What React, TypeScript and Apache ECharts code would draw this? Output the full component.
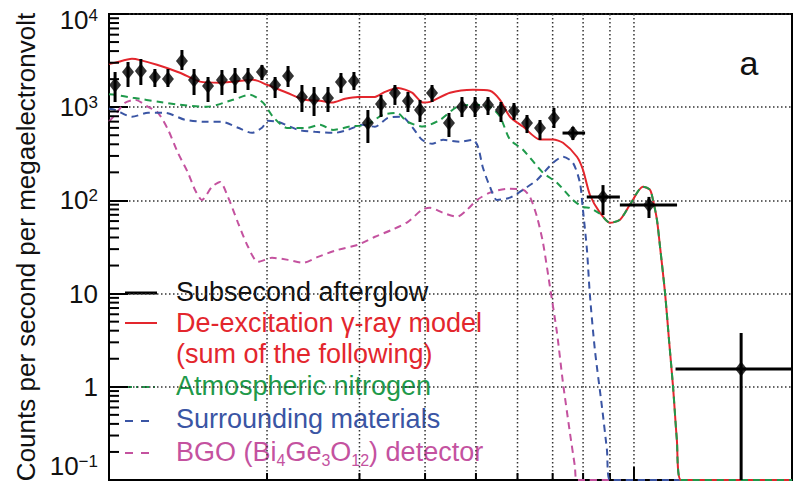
import React, { useEffect, useRef } from "react";
import * as echarts from "echarts";

// ---- Data: subsecond afterglow spectrum (points with error bars) ----
const energyMeV = [1.027, 1.087, 1.15, 1.223, 1.295, 1.377, 1.452, 1.544, 1.641, 1.738, 1.84, 1.956, 2.072, 2.193, 2.331, 2.458, 2.613, 2.766, 2.928, 3.113, 3.297, 3.505, 3.711, 3.912, 4.124, 4.442, 4.703, 4.981, 5.272, 5.58, 5.908, 6.255, 6.622, 7.04, 7.65, 8.73, 10.68, 16.0];
const counts = [1730, 2387, 2446, 2109, 2009, 3131, 1959, 1689, 1959, 2009, 2057, 2387, 1730, 2162, 1286, 1224, 1255, 1864, 1910, 677, 1082, 1421, 1165, 933, 1421, 677, 1005, 1005, 1057, 933, 910, 677, 598, 766, 528, 109, 89, 1.55];
const countsLo = [1137, 1648, 1730, 1648, 1648, 2506, 1352, 1137, 1352, 1421, 1530, 1959, 1255, 1648, 888, 805, 888, 1421, 1530, 413, 785, 1057, 888, 694, 1137, 479, 785, 785, 825, 694, 729, 528, 445, 598, 445, 69.7, 64.7, 0.1];
const countsHi = [2387, 3055, 3289, 2570, 2570, 4109, 2570, 2109, 2506, 2634, 2634, 2837, 2109, 2768, 1730, 1648, 1648, 2328, 2387, 933, 1352, 1730, 1456, 1194, 1730, 866, 1286, 1286, 1286, 1137, 1109, 825, 729, 981, 613, 146, 109, 3.78];
const binLo = [null, null, null, null, null, null, null, null, null, null, null, null, null, null, null, null, null, null, null, null, null, null, null, null, null, null, null, null, null, null, null, null, null, null, 7.31, 8.13, 9.4, 12.0];
const binHi = [null, null, null, null, null, null, null, null, null, null, null, null, null, null, null, null, null, null, null, null, null, null, null, null, null, null, null, null, null, null, null, null, null, null, 8.07, 9.4, 12.08, 20];

// ---- Model: de-excitation gamma-ray model (sum) ----
const modelE = [1.0, 1.027, 1.106, 1.146, 1.234, 1.365, 1.49, 1.627, 1.722, 1.88, 2.0, 2.183, 2.362, 2.523, 2.659, 2.815, 2.98, 3.211, 3.354, 3.552, 3.777, 3.964, 4.088, 4.462, 4.935, 5.317, 5.556, 5.805, 6.146, 6.622, 7.01, 7.325, 7.787, 7.995, 8.242, 8.611, 9.0, 9.404, 9.826, 10.4, 10.73, 10.87, 11.06, 11.21, 11.46, 11.66, 11.87, 12.07, 12.29, 20];
const modelV = [2900, 3000, 3300, 3200, 2850, 2340, 1880, 1830, 1880, 1970, 1740, 1430, 1200, 1170, 1120, 1230, 1290, 1290, 1460, 1610, 1430, 1120, 1140, 1430, 1540, 1500, 1200, 790, 620, 450, 450, 415, 294, 213, 115, 74, 57.5, 62, 90, 140, 130, 101, 62, 32, 10.2, 3.2, 1, 0.27, 0.1, 0.1];

// ---- Atmospheric nitrogen ----
const nitrogenE = [1.0, 1.027, 1.111, 1.251, 1.365, 1.537, 1.722, 1.856, 1.965, 2.053, 2.183, 2.383, 2.523, 2.671, 2.877, 3.1, 3.325, 3.537, 3.695, 3.964, 4.271, 4.602, 4.935, 5.317, 5.556, 5.805, 6.146, 6.71, 7.134, 7.652, 7.995, 8.242, 8.611, 9.0, 9.404, 9.826, 10.4, 10.73, 10.87, 11.06, 11.21, 11.46, 11.66, 11.87, 12.07, 12.29, 20];
const nitrogenV = [1380, 1360, 1260, 1140, 1060, 1010, 1200, 1360, 1120, 790, 600, 600, 650, 570, 620, 650, 830, 870, 700, 620, 730, 1010, 1060, 1010, 790, 450, 350, 198, 155, 101, 85, 83, 72, 57.5, 62, 90, 140, 130, 101, 62, 32, 10.2, 3.2, 1, 0.27, 0.1, 0.1];

// ---- Surrounding materials ----
const surroundE = [1.0, 1.027, 1.106, 1.187, 1.279, 1.395, 1.523, 1.641, 1.761, 1.872, 1.956, 2.009, 2.099, 2.291, 2.468, 2.694, 2.852, 3.033, 3.211, 3.4, 3.615, 3.777, 3.947, 4.124, 4.328, 4.662, 4.935, 5.045, 5.156, 5.317, 5.483, 5.805, 6.146, 6.535, 7.01, 7.325, 7.652, 7.889, 7.995, 8.136, 8.242, 8.424, 8.69, 8.882, 9.0, 20];
const surroundV = [960, 937, 789, 871, 871, 733, 697, 697, 601, 531, 601, 714, 697, 572, 545, 531, 572, 647, 617, 769, 789, 617, 447, 405, 447, 425, 447, 376, 224, 140, 101, 107, 130, 166, 253, 294, 253, 155, 79, 29.5, 9.7, 2.5, 0.61, 0.21, 0.1, 0.1];

// ---- BGO (Bi4Ge3O12) detector ----
const bgoE = [1.0, 1.027, 1.073, 1.121, 1.187, 1.24, 1.296, 1.353, 1.414, 1.458, 1.503, 1.571, 1.627, 1.685, 1.761, 1.84, 1.922, 2.044, 2.193, 2.342, 2.501, 2.73, 2.98, 3.211, 3.459, 3.711, 3.947, 4.088, 4.328, 4.602, 4.807, 5.023, 5.317, 5.729, 6.146, 6.337, 6.535, 6.71, 6.918, 7.134, 7.325, 7.552, 7.719, 7.787, 20];
const bgoV = [700, 828, 1115, 1200, 1010, 871, 572, 324, 198, 130, 101, 140, 158, 109, 57.5, 31.8, 21.9, 24.2, 23.0, 21.4, 24.8, 29.5, 33.4, 40.7, 48.4, 58.9, 79.3, 83.3, 73.6, 66.7, 79.3, 101, 121, 133, 130, 109, 66.7, 35.1, 11.8, 3.8, 1.1, 0.32, 0.139, 0.1, 0.1];

// ---- Axes ----
const xGridValues = [2, 3, 4, 5, 6, 7, 8, 9, 10];
const yMinorMantissas = [2, 3, 4, 5, 6, 7, 8, 9];
const yDecades = [0.1, 1, 10, 100, 1000];

const RED = "#e3262d";
const GREEN = "#1f9a4b";
const BLUE = "#3a55a4";
const PURPLE = "#c4529f";
const FONT = "'Liberation Sans', Arial, Helvetica, sans-serif";
const LEG = 27;

function pairs(xs: number[], ys: number[]) {
  return xs.map((x, i) => [x, ys[i]]);
}

export default function App() {
  const ref = useRef<HTMLDivElement>(null);

  useEffect(() => {
    if (!ref.current) return;
    const chart = echarts.init(ref.current, undefined, { renderer: "svg" });

    const yMinor: number[][] = [];
    yDecades.forEach((d) => yMinorMantissas.forEach((m) => yMinor.push([1, m * d])));

    const pointData = energyMeV.map((e, i) => [
      e,
      counts[i],
      countsLo[i],
      countsHi[i],
      binLo[i] == null ? 0 : binLo[i],
      binHi[i] == null ? 0 : binHi[i],
    ]);

    const lineSeries = (name: string, data: number[][], color: string, dashed: boolean, width: number) => ({
      name,
      type: "line",
      data,
      showSymbol: false,
      symbol: "none",
      smooth: 0.25,
      clip: true,
      lineStyle: { color, width, type: dashed ? [7, 5] : "solid" },
      z: 3,
    });

    const txt = (x: number, y: number, text: string, fill: string) => ({
      type: "text",
      x,
      y,
      style: { text, fill, fontSize: LEG, fontFamily: FONT, verticalAlign: "middle" },
    });

    const option: any = {
      animation: false,
      grid: {
        left: 109,
        right: 1,
        top: 14,
        bottom: 13,
        show: true,
        borderColor: "#000",
        borderWidth: 2,
        backgroundColor: "transparent",
      },
      xAxis: {
        type: "log",
        logBase: 10,
        min: 1,
        max: 20,
        axisLine: { show: true, lineStyle: { color: "#000", width: 2 } },
        axisTick: { show: false },
        axisLabel: { show: false },
        splitLine: { show: false },
      },
      yAxis: {
        type: "log",
        logBase: 10,
        min: 0.1,
        max: 10000,
        name: "Counts per second per megaelectronvolt",
        nameLocation: "middle",
        nameGap: 66,
        nameTextStyle: { fontSize: 26, color: "#111", fontFamily: FONT },
        axisLine: { show: true, lineStyle: { color: "#000", width: 2 } },
        axisTick: { show: true, inside: true, length: 19, lineStyle: { color: "#000", width: 2 } },
        axisLabel: {
          fontSize: 26,
          color: "#111",
          fontFamily: FONT,
          margin: 11,
          formatter: (v: number) => {
            const e = Math.round(Math.log10(v));
            if (e === 0) return "1";
            if (e === 1) return "10";
            if (e === 4) return "{t|10}{ts|4}";
            if (e < 0) return "{b|10}{bs|\u2212" + -e + "}";
            return "10{sup|" + e + "}";
          },
          rich: {
            sup: { fontSize: 17, verticalAlign: "top", color: "#111", fontFamily: FONT },
            t: { fontSize: 26, color: "#111", fontFamily: FONT, padding: [12, 0, 0, 0] },
            ts: { fontSize: 17, verticalAlign: "top", color: "#111", fontFamily: FONT, padding: [12, 0, 0, 0] },
            b: { fontSize: 26, color: "#111", fontFamily: FONT, padding: [0, 0, 28, 0] },
            bs: { fontSize: 17, verticalAlign: "top", color: "#111", fontFamily: FONT },
          },
        },
        splitLine: { show: true, lineStyle: { color: "#333", width: 1.5, type: [1.5, 2.5] } },
      },
      series: [
        {
          type: "custom",
          name: "xgrid",
          data: xGridValues.map((v) => [v, 1]),
          silent: true,
          z: 1,
          renderItem: (params: any, api: any) => {
            const p = api.coord([api.value(0), 1]);
            const cs = params.coordSys;
            const isTen = api.value(0) === 10;
            return {
              type: "group",
              children: [
                {
                  type: "line",
                  shape: { x1: p[0], y1: cs.y, x2: p[0], y2: cs.y + cs.height },
                  style: { stroke: "#333", lineWidth: 1.5, lineDash: [1.5, 2.5] },
                },
                {
                  type: "line",
                  shape: { x1: p[0], y1: cs.y + cs.height, x2: p[0], y2: cs.y + cs.height - (isTen ? 13 : 7) },
                  style: { stroke: "#000", lineWidth: 2 },
                },
              ],
            };
          },
        },
        {
          type: "custom",
          name: "yminor",
          data: yMinor,
          silent: true,
          z: 4,
          renderItem: (params: any, api: any) => {
            const p = api.coord([1, api.value(1)]);
            return {
              type: "line",
              shape: { x1: p[0], y1: p[1], x2: p[0] + 10, y2: p[1] },
              style: { stroke: "#000", lineWidth: 2 },
            };
          },
        },
        lineSeries("BGO (Bi4Ge3O12) detector", pairs(bgoE, bgoV), PURPLE, true, 2),
        lineSeries("Surrounding materials", pairs(surroundE, surroundV), BLUE, true, 2),
        lineSeries("De-excitation γ-ray model", pairs(modelE, modelV), RED, false, 2),
        lineSeries("Atmospheric nitrogen", pairs(nitrogenE, nitrogenV), GREEN, true, 2),
        {
          type: "custom",
          name: "errorbars",
          data: pointData,
          z: 5,
          clip: true,
          renderItem: (params: any, api: any) => {
            const x = api.value(0);
            const lo = api.value(2);
            const hi = api.value(3);
            const xl = api.value(4);
            const xh = api.value(5);
            const pLo = api.coord([x, lo]);
            const pHi = api.coord([x, hi]);
            const children: any[] = [
              {
                type: "line",
                shape: { x1: pLo[0], y1: pLo[1], x2: pHi[0], y2: pHi[1] },
                style: { stroke: "#000", lineWidth: 3 },
              },
            ];
            if (xl > 0 && xh > 0) {
              const y = api.value(1);
              const a = api.coord([xl, y]);
              const b = api.coord([xh, y]);
              children.push({
                type: "line",
                shape: { x1: a[0], y1: a[1], x2: b[0], y2: b[1] },
                style: { stroke: "#000", lineWidth: 3 },
              });
            }
            return { type: "group", children };
          },
        },
        {
          type: "scatter",
          name: "Subsecond afterglow",
          data: pairs(energyMeV, counts),
          symbol: "diamond",
          symbolSize: [12, 15],
          itemStyle: { color: "#000" },
          z: 6,
        },
      ],
      graphic: [
        { type: "line", shape: { x1: 125, y1: 293, x2: 157, y2: 293 }, style: { stroke: "#000", lineWidth: 3 } },
        { type: "line", shape: { x1: 125, y1: 323, x2: 157, y2: 323 }, style: { stroke: RED, lineWidth: 2 } },
        { type: "line", shape: { x1: 125, y1: 387, x2: 157, y2: 387 }, style: { stroke: GREEN, lineWidth: 2, lineDash: [7, 4, 2, 4] } },
        { type: "line", shape: { x1: 125, y1: 421, x2: 157, y2: 421 }, style: { stroke: BLUE, lineWidth: 2, lineDash: [8, 8] } },
        { type: "line", shape: { x1: 125, y1: 453, x2: 157, y2: 453 }, style: { stroke: PURPLE, lineWidth: 2, lineDash: [8, 8] } },
        txt(176, 292, "Subsecond afterglow", "#111"),
        txt(176, 323, "De-excitation γ-ray model", RED),
        txt(176, 354, "(sum of the following)", RED),
        txt(176, 386, "Atmospheric nitrogen", GREEN),
        txt(176, 419, "Surrounding materials", BLUE),
        {
          type: "text",
          x: 176,
          y: 452,
          style: {
            text: "BGO (Bi{sub|4}Ge{sub|3}O{sub|12}) detector",
            fill: PURPLE,
            fontSize: LEG,
            lineHeight: 32,
            fontFamily: FONT,
            verticalAlign: "middle",
            rich: {
              sub: { fontSize: 16, lineHeight: 14, fill: PURPLE, fontFamily: FONT, verticalAlign: "bottom" },
            },
          },
        },
        { type: "text", x: 749, y: 63, style: { text: "a", fill: "#111", fontSize: 34, fontFamily: FONT, align: "center", verticalAlign: "middle" } },
      ],
    };

    chart.setOption(option);
    return () => chart.dispose();
  }, []);

  return <div ref={ref} style={{ position: "absolute", left: 0, top: 0, width: 793, height: 493 }} />;
}
